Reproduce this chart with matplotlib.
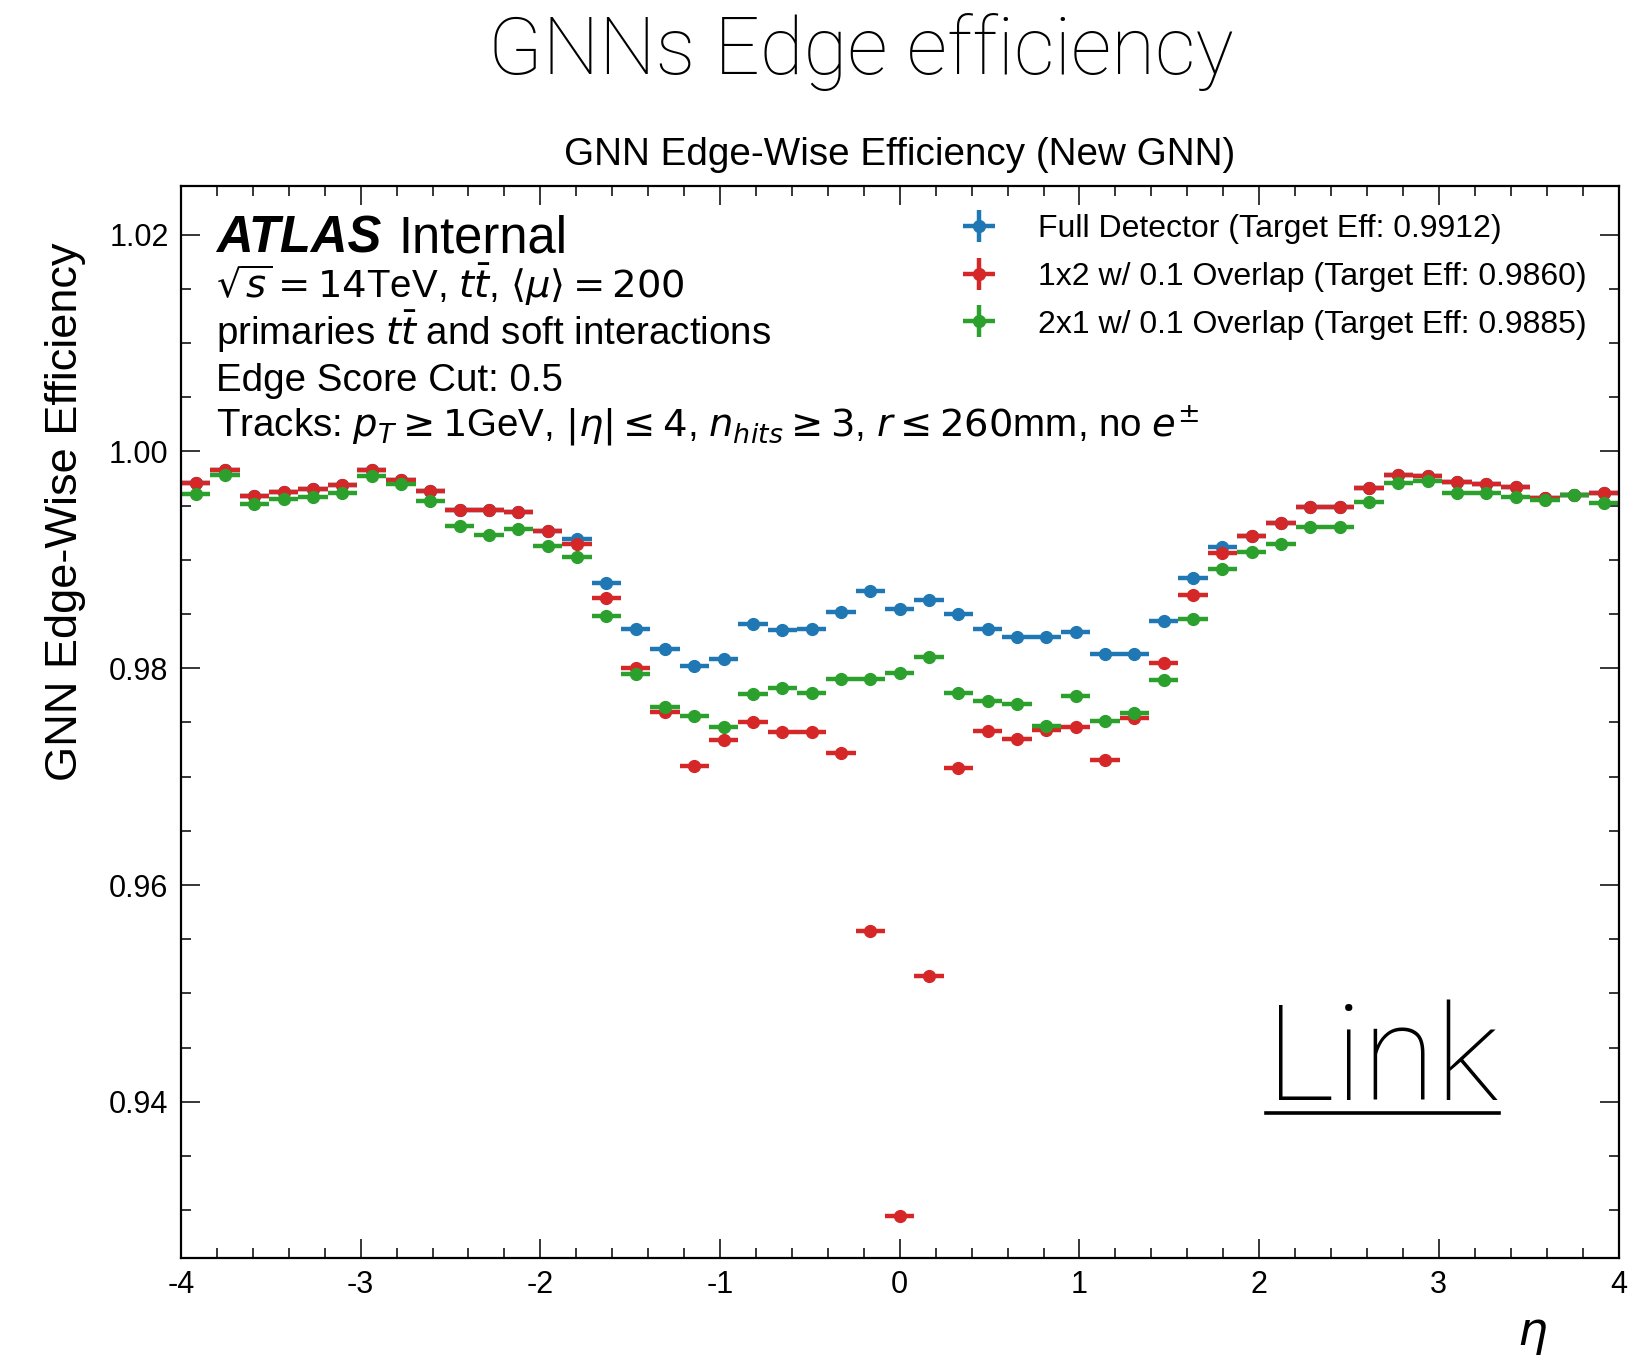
import numpy as np
import matplotlib
matplotlib.use("Agg")
import matplotlib.pyplot as plt
from matplotlib.ticker import MultipleLocator
from matplotlib.lines import Line2D

# ---------------- data ----------------
eta_edges = np.linspace(-4.0, 4.0, 50)

full_detector = [
    0.99708, 0.99825, 0.99585, 0.99622, 0.99656, 0.99692, 0.99825, 0.99739,
    0.99631, 0.99462, 0.99462, 0.99437, 0.99262, 0.99191, 0.98785, 0.98364,
    0.98176, 0.98020, 0.98085, 0.98408, 0.98353, 0.98364, 0.98521, 0.98712,
    0.98543, 0.98629, 0.98497, 0.98364, 0.98291, 0.98291, 0.98331, 0.98128,
    0.98128, 0.98438, 0.98829, 0.99115, 0.99220, 0.99337, 0.99484, 0.99484,
    0.99660, 0.99782, 0.99773, 0.99715, 0.99699, 0.99669, 0.99574, 0.99598,
    0.99619,
]
overlap_1x2 = [
    0.99708, 0.99825, 0.99585, 0.99622, 0.99656, 0.99692, 0.99825, 0.99739,
    0.99631, 0.99462, 0.99462, 0.99437, 0.99262, 0.99145, 0.98647, 0.98003,
    0.97599, 0.97101, 0.97338, 0.97501, 0.97409, 0.97415, 0.97221, 0.95576,
    0.92947, 0.95163, 0.97077, 0.97424, 0.97347, 0.97430, 0.97460, 0.97153,
    0.97538, 0.98051, 0.98675, 0.99066, 0.99220, 0.99337, 0.99484, 0.99484,
    0.99660, 0.99782, 0.99773, 0.99715, 0.99699, 0.99669, 0.99574, 0.99598,
    0.99619,
]
overlap_2x1 = [
    0.99609, 0.99785, 0.99517, 0.99560, 0.99576, 0.99616, 0.99776, 0.99699,
    0.99545, 0.99314, 0.99231, 0.99284, 0.99124, 0.99025, 0.98478, 0.97947,
    0.97645, 0.97562, 0.97460, 0.97759, 0.97820, 0.97774, 0.97900, 0.97900,
    0.97953, 0.98106, 0.97768, 0.97697, 0.97670, 0.97467, 0.97746, 0.97513,
    0.97584, 0.97891, 0.98454, 0.98915, 0.99075, 0.99146, 0.99300, 0.99300,
    0.99530, 0.99711, 0.99726, 0.99613, 0.99613, 0.99582, 0.99552, 0.99598,
    0.99521,
]
series_labels = [
    "Full Detector (Target Eff: 0.9912)",
    "1x2 w/ 0.1 Overlap (Target Eff: 0.9860)",
    "2x1 w/ 0.1 Overlap (Target Eff: 0.9885)",
]
series_colors = ["#1f77b4", "#d62728", "#2ca02c"]
x_ticks = [-4, -3, -2, -1, 0, 1, 2, 3, 4]
y_ticks = [0.94, 0.96, 0.98, 1.00, 1.02]
y_tick_labels = ["0.94", "0.96", "0.98", "1.00", "1.02"]

# ---------------- style ----------------
plt.rcParams["font.family"] = ["Liberation Sans", "DejaVu Sans"]
plt.rcParams["mathtext.fontset"] = "dejavusans"
plt.rcParams["axes.unicode_minus"] = False

W, H = 1650, 1360
fig = plt.figure(figsize=(W / 100, H / 100), dpi=100)
ax = fig.add_axes([181 / W, 1 - 1257.5 / H, (1618.5 - 181) / W, (1257.5 - 186.3) / H])

centers = 0.5 * (eta_edges[:-1] + eta_edges[1:])
half_w = 0.5 * np.diff(eta_edges)

for vals, lab, col in zip([full_detector, overlap_1x2, overlap_2x1], series_labels, series_colors):
    ax.errorbar(centers, vals, xerr=half_w, yerr=np.zeros_like(centers),
                fmt="o", color=col, ms=8.5, elinewidth=3.2, capsize=0, label=lab)

ax.set_xlim(-4, 4)
ax.set_ylim(0.92564, 1.02446)
ax.set_xticks(x_ticks)
ax.set_xticklabels([str(t) for t in x_ticks])
ax.set_yticks(y_ticks)
ax.set_yticklabels(y_tick_labels)
ax.xaxis.set_minor_locator(MultipleLocator(0.2))
ax.yaxis.set_minor_locator(MultipleLocator(0.005))
ax.tick_params(which="both", direction="in", top=True, right=True, labelsize=22, pad=9)
ax.tick_params(which="major", length=13.5, width=1.1)
ax.tick_params(which="minor", length=7, width=1.1)
for sp in ax.spines.values():
    sp.set_linewidth(1.6)

ax.set_title("GNN Edge-Wise Efficiency (New GNN)", fontsize=27.8, pad=15)
ax.set_ylabel("GNN Edge-Wise Efficiency", fontsize=32.5, loc="top")
ax.yaxis.set_label_coords(-0.0661, 0.948)
ax.set_xlabel(r"$\eta$", fontsize=34, loc="right")
ax.xaxis.set_label_coords(0.9506, -0.052)

# legend
ax.legend(loc="upper left", bbox_to_anchor=(0.542, 0.9737), frameon=False,
          fontsize=23, handlelength=1.2, handletextpad=1.23, labelspacing=0.55,
          borderpad=0, borderaxespad=0)

# ATLAS label block
tx = 0.0244
t_atlas = ax.text(tx, 0.9384, "ATLAS", transform=ax.transAxes, fontsize=36.5,
                  fontweight="bold", fontstyle="italic", va="baseline", ha="left")
lines = [
    r"$\sqrt{s}=14$TeV, $t\bar{t}$, $\langle\mu\rangle=200$",
    r"primaries $t\bar{t}$ and soft interactions",
    "Edge Score Cut: 0.5",
    r"Tracks: $p_T \geq 1$GeV, $|\eta| \leq 4$, $n_{hits} \geq 3$, $r \leq 260$mm, no $e^{\pm}$",
]
ys = [0.8959, 0.8520, 0.8091, 0.7661]
for s, y in zip(lines, ys):
    ax.text(tx, y, s, transform=ax.transAxes, fontsize=27.7, va="baseline", ha="left")

# figure-level title and link
fig.text(861 / W, 1 - 74 / H, "GNNs Edge efficiency", fontsize=57.5,
         family=["Roboto", "DejaVu Sans"], fontweight="light", ha="center", va="baseline")
t_link = fig.text(1266 / W, 1 - 1100 / H, "Link", fontsize=96,
                  family=["Roboto", "DejaVu Sans"], fontweight="light", ha="left", va="baseline")

fig.canvas.draw()
r = fig.canvas.get_renderer()
bb = t_atlas.get_window_extent(r)
inv = ax.transAxes.inverted()
x_end = inv.transform((bb.x1, bb.y0))[0]
ax.text(x_end + 0.012, 0.9384, "Internal", transform=ax.transAxes, fontsize=36.5,
        va="baseline", ha="left")

lb = t_link.get_window_extent(r)
yl = (1 - 1100 / H) - 13 / H
fig.add_artist(Line2D([lb.x0 / W, lb.x1 / W], [yl, yl], transform=fig.transFigure,
                      color="black", lw=2.6))

fig.savefig("out.png", dpi=100)
